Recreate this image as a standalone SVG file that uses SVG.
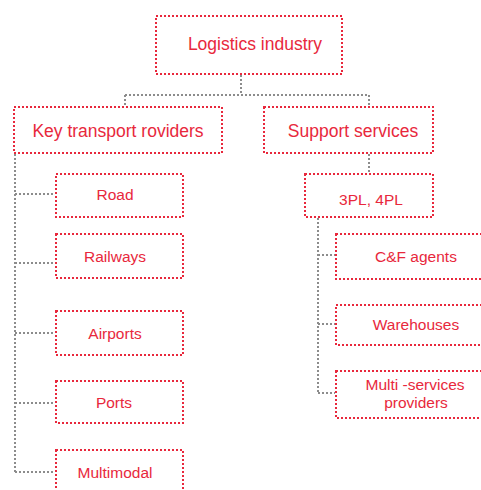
<svg xmlns="http://www.w3.org/2000/svg" width="481" height="490" viewBox="0 0 481 490">
<style>
.box{fill:none;stroke:#e8283c;stroke-width:2;stroke-dasharray:2 2}
.big{font-family:"Liberation Sans",Arial,sans-serif;font-size:17.5px;fill:#e8283c;text-anchor:middle}
.sm{font-family:"Liberation Sans",Arial,sans-serif;font-size:15.5px;fill:#e8283c;text-anchor:middle}
.con{fill:none;stroke:#8c8c8c;stroke-width:2;stroke-dasharray:2 2}
</style>
<rect width="481" height="490" fill="#fff"/>
<g id="connectors">
<path class="con" d="M241 75V95M125 95H369M125 95V106M369 95V106"/>
<path class="con" d="M369 154V173"/>
<path class="con" d="M15 154V472M15 194H55M15 263H55M15 333H55M15 403H55M15 472H55"/>
<path class="con" d="M318 218V393M318 255H335M318 324H335M318 393H335"/>
</g>
<g id="logistics"><rect class="box" x="156" y="16" width="186" height="58"/><text class="big" x="255" y="50">Logistics industry</text></g>
<g id="key-transport"><rect class="box" x="14" y="107" width="208" height="46"/><text class="big" x="118" y="137">Key transport roviders</text></g>
<g id="support"><rect class="box" x="264" y="107" width="169" height="46"/><text class="big" x="353" y="137">Support services</text></g>
<g id="3pl"><rect class="box" x="305" y="174" width="128" height="43"/><text class="sm" x="371" y="205">3PL, 4PL</text></g>
<g id="road"><rect class="box" x="56" y="174" width="127" height="43"/><text class="sm" x="115" y="200">Road</text></g>
<g id="railways"><rect class="box" x="56" y="234" width="127" height="44"/><text class="sm" x="115" y="262">Railways</text></g>
<g id="airports"><rect class="box" x="56" y="311" width="127" height="44"/><text class="sm" x="115" y="339">Airports</text></g>
<g id="ports"><rect class="box" x="56" y="381" width="127" height="42"/><text class="sm" x="114" y="408">Ports</text></g>
<g id="multimodal"><rect class="box" x="56" y="450" width="127" height="50"/><text class="sm" x="115" y="478">Multimodal</text></g>
<g id="cf"><rect class="box" x="336" y="234" width="160" height="45"/><text class="sm" x="416" y="262">C&amp;F agents</text></g>
<g id="warehouses"><rect class="box" x="336" y="305" width="160" height="40"/><text class="sm" x="416" y="330">Warehouses</text></g>
<g id="multiservices"><rect class="box" x="336" y="371" width="160" height="47"/><text class="sm" x="415" y="390">Multi -services</text><text class="sm" x="416" y="408">providers</text></g>
</svg>
